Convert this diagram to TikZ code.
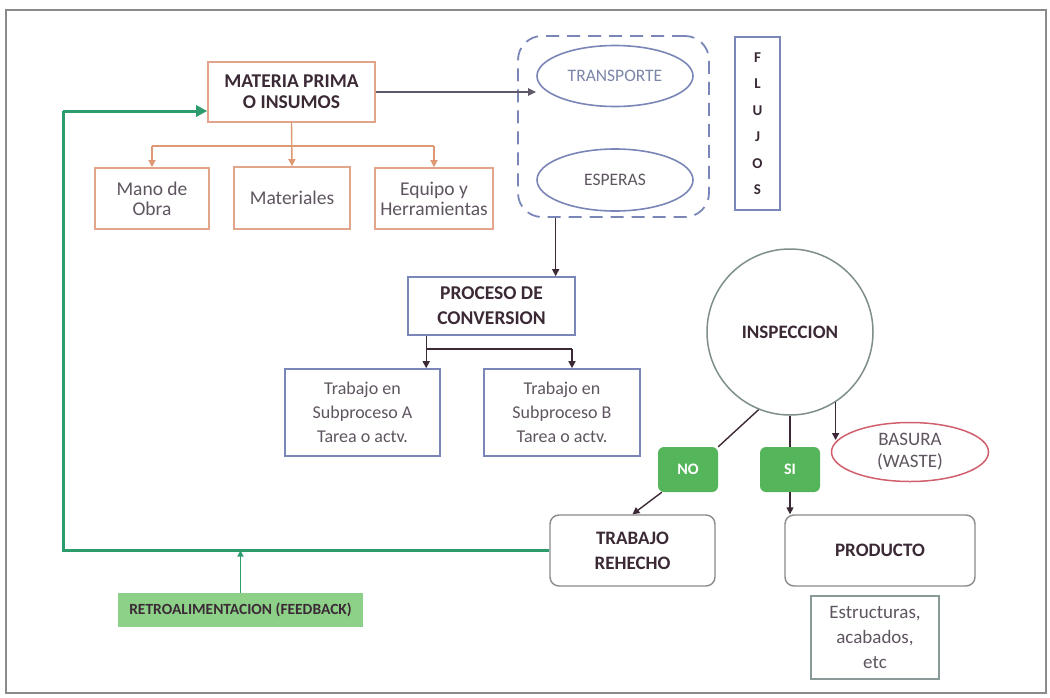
\documentclass[tikz,border=0pt]{standalone}
\usepackage{fontspec}
\setmainfont{Carlito}
\usetikzlibrary{arrows.meta,shapes.geometric,calc}
\definecolor{oranB}{HTML}{E2A48A}
\definecolor{oranA}{HTML}{DE9873}
\definecolor{darkT}{HTML}{3B2A36}
\definecolor{grayT}{HTML}{5F5560}
\definecolor{blueB}{HTML}{7A86B8}
\definecolor{blueT}{HTML}{7C86A8}
\definecolor{darkL}{HTML}{5E5868}
\definecolor{fbG}{HTML}{2E9B6C}
\definecolor{boxG}{HTML}{55B55A}
\definecolor{retroG}{HTML}{8DD188}
\definecolor{grayB}{HTML}{8A8A8A}
\definecolor{circB}{HTML}{7E8E8C}
\definecolor{redB}{HTML}{D0606E}
\definecolor{estB}{HTML}{8A9A98}
\tikzset{
  obox/.style={draw=oranB,line width=1.6pt,inner sep=0pt,align=center,text=grayT,font=\fontsize{19.5}{20}\selectfont},
  bbox/.style={draw=blueB,line width=1.6pt,inner sep=0pt,align=center,text=grayT,font=\fontsize{18}{24}\selectfont},
  head/.style={text=darkT,font=\fontsize{19.5}{21}\selectfont\bfseries},
  ell/.style={ellipse,draw=blueB,line width=1.6pt,inner sep=0pt,font=\fontsize{17.5}{18}\selectfont},
  gbtn/.style={draw=none,fill=boxG,rounded corners=6pt,inner sep=0pt,text=white,font=\fontsize{16}{16}\selectfont\bfseries},
  rbox/.style={draw=grayB,line width=1.4pt,rounded corners=9pt,inner sep=0pt,align=center,text=darkT,font=\fontsize{19}{25}\selectfont\bfseries},
  oarrow/.style={draw=oranA,line width=1.4pt,-{Triangle[length=7pt,width=7pt]}},
  oline/.style={draw=oranA,line width=1.4pt},
  darrow/.style={draw=darkL,line width=1.8pt,-{Triangle[length=8pt,width=7pt]}},
  karrow/.style={draw=darkT,line width=1.4pt,-{Triangle[length=7pt,width=7pt]}},
  kline/.style={draw=darkT,line width=1.4pt},
  fbline/.style={draw=fbG,line width=3pt},
  fbarrow/.style={draw=fbG,line width=3pt,-{Triangle[length=11pt,width=11pt]}},
  tarrow/.style={draw=fbG,line width=1.6pt,-{Triangle[length=6pt,width=6pt]}}
}
\begin{document}
\begin{tikzpicture}[x=1pt,y=-1pt]
\useasboundingbox (0,0) rectangle (1050,697);
\fill[white] (0,0) rectangle (1050,697);
\draw[grayB,line width=1.6pt] (6,10) rectangle (1046,693);

% top part
\node[obox,head,minimum width=167pt,minimum height=60pt] (mp) at (291.5,92) {MATERIA PRIMA\\O INSUMOS};
\node[obox,minimum width=114pt,minimum height=61pt] (mano) at (152,198.5) {Mano de\\Obra};
\node[obox,minimum width=116pt,minimum height=62pt] (mat) at (292,198) {Materiales};
\node[obox,minimum width=118pt,minimum height=61pt] (equ) at (434,198.5) {Equipo y\\Herramientas};

\node[draw=blueB,dashed,dash pattern=on 13pt off 8pt,line width=1.8pt,rounded corners=24pt,minimum width=191pt,minimum height=181pt,inner sep=0pt] (flow) at (613.5,126.5) {};
\node[ell,minimum width=156pt,minimum height=61pt,text=blueT] (trans) at (615,76) {TRANSPORTE};
\node[ell,minimum width=156pt,minimum height=62pt,text=grayT] (esp) at (615,180) {ESPERAS};
\node[draw=blueB,line width=2.2pt,minimum width=45pt,minimum height=173pt,inner sep=0pt,align=center,text=darkT,font=\fontsize{15}{26.5}\selectfont\bfseries] (flujos) at (757.5,123.5) {F\\L\\U\\J\\O\\S};

\draw[darrow] (mp.east) -- (mp.east -| trans.west);

\coordinate (ob) at (291.5,146);
\draw[oline] (ob -| mano.north) -- (ob -| equ.north);
\draw[oarrow] (mp.south) -- (mat.north);
\draw[oarrow] (ob -| mano.north) -- (mano.north);
\draw[oarrow] (ob -| equ.north) -- (equ.north);

% process
\node[bbox,head,font=\fontsize{19.5}{25}\selectfont\bfseries,minimum width=167pt,minimum height=58pt] (proc) at (491.5,306) {PROCESO DE\\CONVERSION};
\node[bbox,minimum width=155pt,minimum height=87pt] (suba) at (362.5,412.5) {Trabajo en\\Subproceso A\\Tarea o actv.};
\node[bbox,minimum width=156pt,minimum height=87pt] (subb) at (562,412.5) {Trabajo en\\Subproceso B\\Tarea o actv.};

\coordinate (fd) at ($(flow.south west)!0.2!(flow.south east)$);
\draw[karrow] (fd) -- (fd |- proc.north);
\coordinate (pa) at ($(proc.south west)+(19,0)$);
\coordinate (pj) at ($(pa)+(0,13)$);
\coordinate (pk) at (572,0);
\draw[kline] (pa) -- (pj) -- (pj -| pk);
\draw[karrow] (pj) -- (pj |- suba.north);
\draw[karrow] (pj -| pk) -- (pk |- subb.north);

% inspection
\node[circle,draw=circB,line width=1.5pt,minimum size=166pt,inner sep=0pt,text=darkT,font=\fontsize{19}{18}\selectfont\bfseries] (insp) at (790,332) {INSPECCION};
\node[gbtn,minimum width=60pt,minimum height=45pt] (no) at (688,469.5) {NO};
\node[gbtn,minimum width=60pt,minimum height=45pt] (si) at (790,469.5) {SI};
\node[ellipse,draw=redB,line width=1.5pt,minimum width=157pt,minimum height=59pt,inner sep=0pt,align=center,text=grayT,font=\fontsize{19}{22}\selectfont] (bas) at (910,452) {BASURA\\(WASTE)};
\node[rbox,minimum width=165pt,minimum height=71pt] (trab) at (632.5,550.5) {TRABAJO\\REHECHO};
\node[rbox,minimum width=190pt,minimum height=71pt] (prod) at (880,550.5) {PRODUCTO};
\node[draw=estB,line width=1.4pt,minimum width=128pt,minimum height=83pt,inner sep=0pt,align=center,text=grayT,font=\fontsize{19}{25}\selectfont] (est) at (875,637.5) {Estructuras,\\acabados,\\etc};

\draw[kline] (insp.248) -- (no.north east);
\draw[kline] (insp.south) -- (si.north);
\draw[karrow] (insp.303) -- ($(insp.303 |- bas.center)+(0,-12)$);
\draw[karrow] ($(no.south west)+(4,0)$) -- (trab.north);
\draw[karrow] (si.south) -- (si.south |- prod.north);

% feedback
\node[fill=retroG,minimum width=245pt,minimum height=34pt,inner sep=0pt,text=darkT,font=\fontsize{15.5}{18}\selectfont\bfseries] (retro) at (240.5,610) {RETROALIMENTACION (FEEDBACK)};
\coordinate (fbx) at (63,111);
\draw[fbline] (trab.west) -| (fbx);
\draw[fbarrow] (fbx) -- (fbx -| mp.west);
\draw[tarrow] (retro.north) -- (retro.north |- trab.west);
\end{tikzpicture}
\end{document}
